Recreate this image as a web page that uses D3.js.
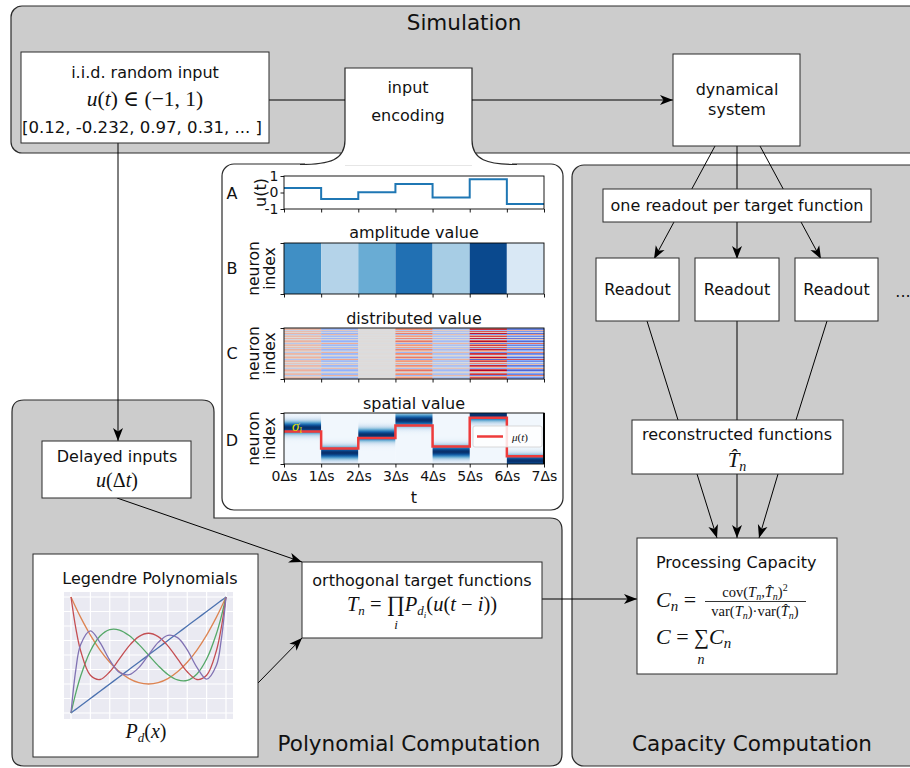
<!DOCTYPE html>
<html>
<head>
<meta charset="utf-8">
<script src="https://cdn.jsdelivr.net/npm/d3@7"></script>
<style>
  body { margin: 0; background: #fff; }
  svg { display: block; }
  text { font-family: "DejaVu Sans", sans-serif; fill: #111; }
</style>
</head>
<body>
<div id="chart"></div>
<script>
// ---- data ----
const uValues = [0.27, -0.39, 0.02, 0.51, -0.31, 0.81, -0.70];          // input u(t) per step
const timeTicks = [0, 1, 2, 3, 4, 5, 6, 7];
const timeTickLabels = ["0Δs", "1Δs", "2Δs", "3Δs", "4Δs", "5Δs", "6Δs", "7Δs"];
const uTicks = [-1, 0, 1];
const bandCenters = [0.71, 0.22, 0.57, 0.86, 0.24, 0.96, 0.06];          // spatial encoding bump (fraction of neuron index)
const neuronWeights = [0.62, 0.85, -0.35, 0.71, 0.18, 0.93, -0.58, 0.44, 0.77, 0.05,
  0.88, -0.22, 0.66, 0.97, 0.31, -0.74, 0.52, 0.81, 0.12, 0.69,
  -0.41, 0.91, 0.57, 0.26, -0.63, 0.84, 0.73, -0.12, 0.48, 0.95,
  0.36, -0.85, 0.61, 0.79, 0.08, 0.55, -0.29, 0.87, 0.68, 0.22,
  -0.52, 0.76, 0.99, 0.41, -0.18, 0.64, 0.83, -0.67, 0.29, 0.72, 0.58];

const legendreX  = [-1, -0.9375, -0.875, -0.75, -0.625, -0.5, -0.375, -0.25, -0.125, 0, 0.125, 0.25, 0.375, 0.5, 0.625, 0.75, 0.875, 0.9375, 1];
const legendreP1 = [-1, -0.9375, -0.875, -0.75, -0.625, -0.5, -0.375, -0.25, -0.125, 0, 0.125, 0.25, 0.375, 0.5, 0.625, 0.75, 0.875, 0.9375, 1];
const legendreP2 = [1, 0.8184, 0.6484, 0.3438, 0.0859, -0.125, -0.2891, -0.4063, -0.4766, -0.5, -0.4766, -0.4063, -0.2891, -0.125, 0.0859, 0.3438, 0.6484, 0.8184, 1];
const legendreP3 = [-1, -0.6537, -0.3623, 0.0703, 0.3271, 0.4375, 0.4307, 0.3359, 0.1826, 0, -0.1826, -0.3359, -0.4307, -0.4375, -0.3271, -0.0703, 0.3623, 0.6537, 1];
const legendreP4 = [1, 0.4587, 0.0685, -0.3501, -0.4223, -0.2891, -0.0658, 0.1577, 0.3175, 0.375, 0.3175, 0.1577, -0.0658, -0.2891, -0.4223, -0.3501, 0.0685, 0.4587, 1];
const legendreP5 = [-1, -0.2511, 0.1820, 0.4164, 0.2133, -0.0898, -0.3001, -0.3397, -0.2175, 0, 0.2175, 0.3397, 0.3001, 0.0898, -0.2133, -0.4164, -0.1820, 0.2511, 1];
const legendreSeries = [legendreP1, legendreP2, legendreP3, legendreP4, legendreP5];
const legendreColors = ["#4c72b0", "#dd8452", "#55a868", "#c44e52", "#8172b3"];
const legendreGrid = [-1, -0.75, -0.5, -0.25, 0, 0.25, 0.5, 0.75, 1];

const W = 910, H = 768;
const GRAY = "#cccccc", EDGE = "#2a2a2a";
const MATH = "'Liberation Serif', 'DejaVu Serif', serif";
const FS = 16;   // box text size

const svg = d3.select("#chart").append("svg").attr("width", W).attr("height", H);
const defs = svg.append("defs");
defs.append("marker")
  .attr("id", "arrow").attr("viewBox", "-14 -6 15 12")
  .attr("refX", 0).attr("refY", 0)
  .attr("markerWidth", 15).attr("markerHeight", 12)
  .attr("markerUnits", "userSpaceOnUse").attr("orient", "auto")
  .append("path").attr("d", "M0,0 L-13,-5 L-9.5,0 L-13,5 Z").attr("fill", "#000");

// helpers
function box(x, y, w, h) {
  svg.append("rect").attr("x", x).attr("y", y).attr("width", w).attr("height", h)
    .attr("fill", "#fff").attr("stroke", EDGE).attr("stroke-width", 1);
}
function label(x, y, txt, size, anchor) {
  return svg.append("text").attr("x", x).attr("y", y)
    .attr("text-anchor", anchor || "middle").style("font-size", size + "px").text(txt);
}
// parts: [text, italic, baselineOffset, fontSize]
function mathText(parent, x, y, size, parts, anchor) {
  const t = parent.append("text").attr("x", x).attr("y", y)
    .attr("text-anchor", anchor || "middle")
    .style("font-family", MATH).style("font-size", size + "px");
  let cur = 0;
  parts.forEach(p => {
    const off = p[2] || 0;
    t.append("tspan").attr("dy", off - cur)
      .style("font-style", p[1] ? "italic" : "normal")
      .style("font-size", (p[3] || size) + "px")
      .style("font-family", MATH)
      .text(p[0]);
    cur = off;
  });
  return t;
}
function connector(x1, y1, x2, y2, arrow) {
  const l = svg.append("line").attr("x1", x1).attr("y1", y1).attr("x2", x2).attr("y2", y2)
    .attr("stroke", "#000").attr("stroke-width", 1);
  if (arrow) l.attr("marker-end", "url(#arrow)");
}

// ---- panels ----
svg.append("rect").attr("x", 11).attr("y", 6).attr("width", 920).attr("height", 147).attr("rx", 11)
  .attr("fill", GRAY).attr("stroke", EDGE).attr("stroke-width", 1.2);
svg.append("rect").attr("x", 572).attr("y", 165).attr("width", 360).attr("height", 601).attr("rx", 12)
  .attr("fill", GRAY).attr("stroke", EDGE).attr("stroke-width", 1.2);
svg.append("path")
  .attr("d", "M12,412 Q12,400 24,400 H202 Q214,400 214,412 V518 H550 Q562,518 562,530 V754 Q562,766 550,766 H24 Q12,766 12,754 Z")
  .attr("fill", GRAY).attr("stroke", EDGE).attr("stroke-width", 1.2);
svg.append("rect").attr("x", 222).attr("y", 164).attr("width", 341).attr("height", 346).attr("rx", 12)
  .attr("fill", "#fff").attr("stroke", EDGE).attr("stroke-width", 1.2);
// input encoding neck
svg.append("rect").attr("x", 305).attr("y", 158).attr("width", 207).attr("height", 8).attr("fill", "#fff");
svg.append("path")
  .attr("d", "M300,164.5 C330,164.5 345,160 345,140 V68 H472 V140 C472,160 487,164.5 517,164.5")
  .attr("fill", "#fff").attr("stroke", EDGE).attr("stroke-width", 1.2);
svg.append("line").attr("x1", 345).attr("x2", 472).attr("y1", 165.5).attr("y2", 165.5)
  .attr("stroke", "#e6e6e6").attr("stroke-width", 1);

label(464, 30, "Simulation", 21.5);
label(409, 751, "Polynomial Computation", 21.5);
label(752, 751, "Capacity Computation", 21.5);

// ---- connectors ----
connector(269, 100, 345, 100, false);
connector(472, 100, 673, 100, true);
connector(118, 143, 118, 441, true);
connector(117, 498, 302, 562, true);
connector(258, 683, 302, 638, true);
connector(542, 599, 637, 599, true);
connector(715, 146, 654, 259, true);
connector(737, 146, 737, 259, true);
connector(760, 146, 821, 259, true);
connector(647, 321, 678, 420, false);
connector(737, 321, 737, 420, false);
connector(827, 321, 796, 420, false);
connector(697, 474, 717, 538, true);
connector(737, 474, 737, 538, true);
connector(778, 474, 759, 538, true);

// ---- boxes ----
box(21, 52, 248, 91);
label(145, 78, "i.i.d. random input", FS);
mathText(svg, 145, 106, 21.5, [["u", true], ["(", false], ["t", true], [") ∈ (−1, 1)", false]]);
label(142, 133, "[0.12, -0.232, 0.97, 0.31, ... ]", 15.5).attr("textLength", 240).attr("lengthAdjust", "spacingAndGlyphs");

label(408, 93, "input", FS);
label(408, 121, "encoding", FS);

box(673, 54, 127, 92);
label(737, 95, "dynamical", FS);
label(737, 115, "system", FS);

box(603, 189, 268, 33);
label(737, 211, "one readout per target function", FS);

[[596, 83], [695, 84], [795, 83]].forEach(([x, w]) => {
  box(x, 258, w, 63);
  label(x + w / 2, 295, "Readout", FS);
});
label(903, 297, "...", FS);

box(632, 420, 211, 54);
label(737, 440, "reconstructed functions", FS);
mathText(svg, 737, 467, 21, [["T̂", true], ["n", true, 4, 14]]);

box(637, 538, 200, 136);
label(656, 568, "Processing Capacity", FS, "start");
mathText(svg, 656, 607, 22, [["C", true], ["n", true, 4, 15], [" =", false, 0]], "start");
svg.append("line").attr("x1", 705).attr("x2", 806).attr("y1", 601.5).attr("y2", 601.5).attr("stroke", "#000").attr("stroke-width", 0.8);
mathText(svg, 755, 597, 14.5, [["cov(", false], ["T", true], ["n", true, 3, 10], [",", false, 0], ["T̂", true], ["n", true, 3, 10], [")", false, 0], ["2", false, -6, 10]]);
mathText(svg, 755, 616, 14.5, [["var(", false], ["T", true], ["n", true, 3, 10], [")·var(", false, 0], ["T̂", true], ["n", true, 3, 10], [")", false, 0]]);
mathText(svg, 656, 644, 22, [["C", true], [" = ", false], ["∑", false, 0, 21], ["C", true], ["n", true, 4, 15]], "start");
mathText(svg, 701, 664, 14, [["n", true]]);

box(42, 441, 149, 57);
label(117, 462, "Delayed inputs", FS);
mathText(svg, 117, 487, 20, [["u", true], ["(Δ", false], ["t", true], [")", false]]);

box(302, 562, 240, 76);
label(422, 586, "orthogonal target functions", FS);
mathText(svg, 422, 611, 20.5, [["T", true], ["n", true, 4, 13], [" = ", false, 0], ["∏", false, 0, 22], ["P", true], ["d", true, 4, 13], ["i", true, 7, 9], ["(", false, 0], ["u", true], ["(", false], ["t", true], [" − ", false], ["i", true], ["))", false]]);
mathText(svg, 396, 629, 13, [["i", true]]);

box(33, 554, 225, 203);
label(150, 584, "Legendre Polynomials", FS);
mathText(svg, 146, 738, 20, [["P", true], ["d", true, 4, 13], ["(", false, 0], ["x", true], [")", false]]);

// ---- Legendre plot ----
const xL = d3.scaleLinear().domain([-1, 1]).range([71, 226]);
const yL = d3.scaleLinear().domain([-1, 1]).range([713, 597]);
const leg = svg.append("g");
leg.append("rect").attr("x", 64).attr("y", 592).attr("width", 169).attr("height", 127).attr("fill", "#eaeaf2");
leg.selectAll(".gx").data(legendreGrid).join("line")
  .attr("x1", d => xL(d)).attr("x2", d => xL(d)).attr("y1", 592).attr("y2", 719)
  .attr("stroke", "#fff").attr("stroke-width", 1.2);
leg.selectAll(".gy").data(legendreGrid).join("line")
  .attr("y1", d => yL(d)).attr("y2", d => yL(d)).attr("x1", 64).attr("x2", 233)
  .attr("stroke", "#fff").attr("stroke-width", 1.2);
const legLine = d3.line().x(d => xL(d[0])).y(d => yL(d[1])).curve(d3.curveCatmullRom.alpha(0.5));
legendreSeries.forEach((s, k) => {
  leg.append("path").datum(legendreX.map((x, i) => [x, s[i]]))
    .attr("d", legLine).attr("fill", "none")
    .attr("stroke", legendreColors[k]).attr("stroke-width", 1.3);
});

// ---- encoding plots A-D ----
const xT = d3.scaleLinear().domain([0, 7]).range([284, 544]);
const stepPts = uValues.map((u, i) => [i, u]).concat([[7, uValues[uValues.length - 1]]]);

function frame(y0, y1) {
  svg.append("rect").attr("x", xT(0)).attr("y", y0).attr("width", xT(7) - xT(0)).attr("height", y1 - y0)
    .attr("fill", "none").attr("stroke", "#000").attr("stroke-width", 0.9);
}
function styleAxis(g, size) {
  g.select(".domain").remove();
  g.selectAll("line").attr("stroke", "#000").attr("stroke-width", 0.9);
  g.selectAll("text").style("font-family", "'DejaVu Sans', sans-serif").style("font-size", size + "px").attr("fill", "#111");
}
function xTicks(y, labels) {
  const ax = d3.axisBottom(xT).tickValues(timeTicks).tickSize(3.5).tickPadding(4)
    .tickFormat(labels ? (d => labels[d]) : "");
  const g = svg.append("g").attr("transform", `translate(0,${y})`).call(ax);
  styleAxis(g, 14);
}
function yEndTicks(y0, y1) {
  const s = d3.scaleLinear().domain([0, 1]).range([y1, y0]);
  const g = svg.append("g").attr("transform", `translate(${xT(0)},0)`)
    .call(d3.axisLeft(s).tickValues([0, 1]).tickSize(3.5).tickFormat(""));
  styleAxis(g, 13);
}
function rotLabel(x, y, txt, size) {
  svg.append("text").attr("transform", `translate(${x},${y}) rotate(-90)`)
    .attr("text-anchor", "middle").style("font-size", size + "px").text(txt);
}

// A: u(t)
const yA = d3.scaleLinear().domain([-1, 1]).range([209, 176]);
svg.append("path").datum(stepPts)
  .attr("d", d3.line().x(d => xT(d[0])).y(d => yA(d[1])).curve(d3.curveStepAfter))
  .attr("fill", "none").attr("stroke", "#1f77b4").attr("stroke-width", 2);
frame(176, 209);
styleAxis(svg.append("g").attr("transform", `translate(${xT(0)},0)`)
  .call(d3.axisLeft(yA).tickValues(uTicks).tickSize(3.5).tickPadding(2).tickFormat(d => String(d))), 14);
xTicks(209, null);
label(232, 199, "A", 16);
rotLabel(266, 192.5, "u(t)", 16);

// B: amplitude value
label(414, 238, "amplitude value", 16);
svg.append("g").selectAll("rect").data(uValues).join("rect")
  .attr("x", (d, i) => xT(i)).attr("width", xT(1) - xT(0))
  .attr("y", 243).attr("height", 51)
  .attr("fill", d => d3.interpolateBlues((d + 1) / 2));
frame(243, 294);
xTicks(294, null);
yEndTicks(243, 294);
label(232, 274, "B", 16);
rotLabel(259, 268.5, "neuron", 15.5);
rotLabel(275, 268.5, "index", 15.5);

// C: distributed value
label(414, 324, "distributed value", 16);
const coolwarm = d3.scaleLinear().domain([-0.8, -0.4, 0, 0.4, 0.8])
  .range(["#3b4cc0", "#8db0fe", "#dddddd", "#f49a7b", "#b40426"]).clamp(true);
const yC = d3.scaleBand().domain(d3.range(neuronWeights.length)).range([328, 379]);
const cCells = [];
uValues.forEach((u, i) => neuronWeights.forEach((w, n) => cCells.push({ i, n, v: u * w })));
svg.append("g").selectAll("rect").data(cCells).join("rect")
  .attr("x", d => xT(d.i)).attr("width", xT(1) - xT(0) + 0.3)
  .attr("y", d => yC(d.n)).attr("height", yC.bandwidth() + 0.3)
  .attr("fill", d => coolwarm(d.v));
frame(328, 379);
xTicks(379, null);
yEndTicks(328, 379);
label(232, 359, "C", 16);
rotLabel(259, 353.5, "neuron", 15.5);
rotLabel(275, 353.5, "index", 15.5);

// D: spatial value
label(414, 409, "spatial value", 16);
const yD = d3.scaleLinear().domain([0, 1]).range([464, 413]);
bandCenters.forEach((c, i) => {
  const gr = defs.append("linearGradient").attr("id", "band" + i)
    .attr("x1", 0).attr("y1", 0).attr("x2", 0).attr("y2", 1);
  d3.range(0, 51).forEach(k => {
    const off = k / 50, v = 1 - off;
    const g = Math.exp(-0.5 * Math.pow((v - c) / 0.09, 2));
    gr.append("stop").attr("offset", off).attr("stop-color", d3.interpolateBlues(0.03 + 0.97 * g));
  });
});
svg.append("g").selectAll("rect").data(bandCenters).join("rect")
  .attr("x", (d, i) => xT(i)).attr("width", xT(1) - xT(0) + 0.3)
  .attr("y", yD(1)).attr("height", yD(0) - yD(1))
  .attr("fill", (d, i) => `url(#band${i})`);
svg.append("path").datum(stepPts)
  .attr("d", d3.line().x(d => xT(d[0])).y(d => yD((d[1] + 1) / 2)).curve(d3.curveStepAfter))
  .attr("fill", "none").attr("stroke", "#ee3b3b").attr("stroke-width", 2.5);
frame(413, 464);
svg.append("line").attr("x1", xT(7)).attr("x2", xT(7)).attr("y1", 413).attr("y2", 464).attr("stroke", "#000").attr("stroke-width", 2);
xTicks(464, timeTickLabels);
yEndTicks(413, 464);
label(232, 446, "D", 16);
rotLabel(259, 438.5, "neuron", 15.5);
rotLabel(275, 438.5, "index", 15.5);
label(414, 503, "t", 16);
// legend
svg.append("rect").attr("x", 473).attr("y", 426).attr("width", 69).attr("height", 21).attr("rx", 2)
  .attr("fill", "rgba(255,255,255,0.85)").attr("stroke", "#cfcfcf").attr("stroke-width", 0.8);
svg.append("line").attr("x1", 477).attr("x2", 503).attr("y1", 436.5).attr("y2", 436.5)
  .attr("stroke", "#ee3b3b").attr("stroke-width", 2.5);
mathText(svg, 512, 440.5, 11, [["μ", true], ["(", false], ["t", true], [")", false]], "start");
mathText(svg, 292, 431, 15, [["σ", true], ["I", false, 2, 8]], "start").selectAll("tspan").style("fill", "#e8e000");
</script>
</body>
</html>
